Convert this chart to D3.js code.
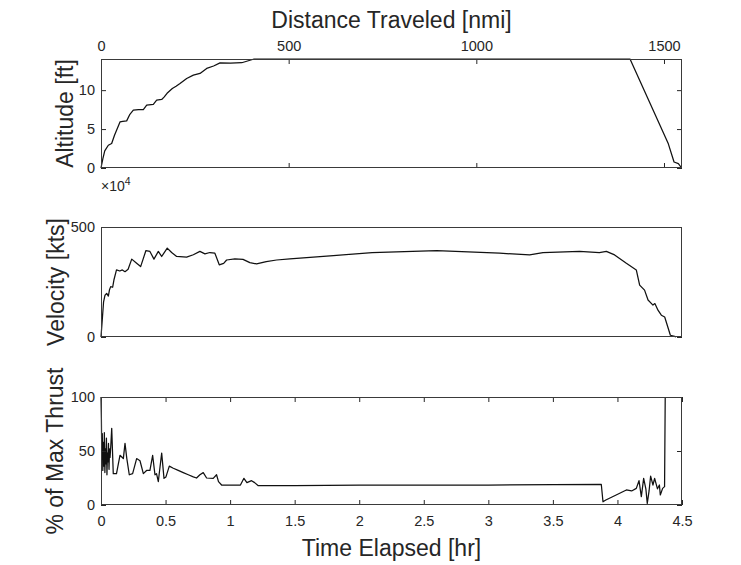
<!DOCTYPE html>
<html><head><meta charset="utf-8">
<script src="https://cdn.jsdelivr.net/npm/d3@7"></script>
<style>
body{margin:0;background:#fff}
svg{display:block}
text{font-family:"Liberation Sans",Arial,Helvetica,sans-serif;fill:#262626}
</style>
</head><body>
<svg id="c" width="741" height="565"></svg>
<script>
// ---- data ----
const altDistNmi = [0, 5, 10, 19.5, 28.4, 36, 50.6, 58, 68.4, 77, 86.1, 100, 112.8, 121.7, 139.4, 148.3, 161.7, 168, 176, 190, 200, 210.5, 228.3, 246, 263.8, 281.6, 300, 317.1, 345, 375, 408, 800, 1200, 1409.5, 1511.6, 1526.8, 1538.3, 1547];
const altFt = [0, 12000, 22000, 29200, 31400, 42000, 59200, 60000, 60500, 69000, 74300, 75000, 75100, 80700, 81600, 87100, 88000, 91000, 96000, 102000, 105000, 108600, 115000, 119300, 121500, 127900, 131000, 135000, 134800, 135200, 140000, 140000, 140000, 140000, 31000, 7700, 5700, 0];

const velTimeHr = [0, 0.01, 0.02, 0.031, 0.044, 0.057, 0.066, 0.075, 0.09, 0.1, 0.12, 0.146, 0.165, 0.186, 0.21, 0.238, 0.276, 0.307, 0.348, 0.379, 0.41, 0.444, 0.47, 0.513, 0.547, 0.586, 0.663, 0.715, 0.766, 0.805, 0.843, 0.882, 0.916, 0.95, 0.973, 1.037, 1.10, 1.153, 1.205, 1.28, 1.36, 1.463, 1.8, 2.1, 2.6, 3.087, 3.32, 3.423, 3.707, 3.86, 3.914, 3.978, 4.069, 4.146, 4.172, 4.21, 4.237, 4.275, 4.29, 4.314, 4.34, 4.366, 4.41, 4.443, 4.455];
const velKts = [0, 80, 160, 190, 198, 186, 215, 229, 226, 259, 305, 300, 305, 297, 308, 354, 335, 320, 393, 389, 354, 389, 366, 404, 384, 366, 363, 374, 389, 378, 384, 381, 328, 335, 350, 355, 353, 338, 332, 343, 350, 355, 370, 384, 393, 381, 373, 384, 389, 384, 389, 373, 335, 305, 236, 213, 168, 145, 152, 122, 99, 91, 8, 3, 0];

const thrTimeHr = [0, 0.003, 0.006, 0.01, 0.014, 0.018, 0.022, 0.026, 0.03, 0.034, 0.038, 0.042, 0.046, 0.05, 0.054, 0.058, 0.062, 0.066, 0.07, 0.076, 0.083, 0.095, 0.12, 0.147, 0.173, 0.186, 0.2, 0.219, 0.245, 0.276, 0.302, 0.328, 0.353, 0.379, 0.40, 0.418, 0.43, 0.444, 0.45, 0.47, 0.488, 0.503, 0.529, 0.56, 0.598, 0.637, 0.676, 0.715, 0.74, 0.766, 0.792, 0.818, 0.869, 0.895, 0.91, 0.934, 1.08, 1.107, 1.13, 1.166, 1.19, 1.218, 1.5, 2.0, 2.5, 3.0, 3.5, 3.875, 3.888, 3.91, 3.99, 4.069, 4.11, 4.146, 4.167, 4.185, 4.203, 4.22, 4.231, 4.245, 4.257, 4.275, 4.288, 4.31, 4.325, 4.332, 4.35, 4.365, 4.37];
const thrPct = [100, 80, 45, 66, 32, 58, 36, 67, 30, 52, 38, 62, 28, 48, 40, 57, 33, 52, 44, 55, 71, 29, 29, 46, 43, 57, 43, 28, 29, 43, 41, 29, 32, 32, 46, 28, 29, 21.6, 28, 48, 24.7, 26, 36, 34, 32, 30, 28, 26, 25, 28, 30, 25, 24.7, 28, 21.6, 18.5, 18.5, 24.7, 20.7, 22.5, 20.7, 17.9, 17.9, 18.3, 18.5, 18.5, 18.8, 19, 3, 4.6, 9.3, 13.9, 13, 15.4, 22.5, 7.7, 24.7, 15, 1.5, 13, 26.8, 18.5, 24.7, 15, 18.5, 9.3, 15.4, 17, 100];

const distTicks = [0, 500, 1000, 1500];
const altTicks = [0, 50000, 100000];
const velTicks = [0, 500];
const thrTicks = [0, 50, 100];
const timeTicks = [0, 0.5, 1, 1.5, 2, 2.5, 3, 3.5, 4, 4.5];
const timeTickLabels = ["0", "0.5", "1", "1.5", "2", "2.5", "3", "3.5", "4", "4.5"];

const labelTop = "Distance Traveled [nmi]";
const labelBottom = "Time Elapsed [hr]";
const labelAlt = "Altitude [ft]";
const labelVel = "Velocity [kts]";
const labelThr = "% of Max Thrust";

// ---- layout ----
const X0 = 101, X1 = 682;
const P1 = [59, 168], P2 = [227, 337], P3 = [397, 505];
const TICK = 5, TICKFONT = "14.5px", LABELFONT = "23px";
const INK = "#262626";

const svg = d3.select("#c");

const xDist = d3.scaleLinear().domain([0, 1548]).range([X0, X1]);
const xTime = d3.scaleLinear().domain([0, 4.5]).range([X0, X1]);
const yAlt = d3.scaleLinear().domain([0, 140000]).range([P1[1], P1[0]]);
const yVel = d3.scaleLinear().domain([0, 500]).range([P2[1], P2[0]]);
const yThr = d3.scaleLinear().domain([0, 100]).range([P3[1], P3[0]]);

function styleAxis(g) {
  g.select(".domain").remove();
  g.attr("font-family", null).attr("font-size", TICKFONT).attr("color", INK);
  g.selectAll("line").attr("stroke", INK);
}

function frame(P, xs, ys, xt, yt, opts) {
  const g = svg.append("g");
  if (xt) {
    g.append("g").attr("transform", `translate(0,${P[0]})`)
      .call(d3.axisTop(xs).tickValues(xt).tickSizeInner(-TICK).tickSizeOuter(0).tickPadding(8)
        .tickFormat(opts.topLabels ? opts.topFmt : () => ""))
      .call(styleAxis);
    g.append("g").attr("transform", `translate(0,${P[1]})`)
      .call(d3.axisBottom(xs).tickValues(xt).tickSizeInner(-TICK).tickSizeOuter(0).tickPadding(11)
        .tickFormat(opts.bottomLabels ? opts.bottomFmt : () => ""))
      .call(styleAxis);
  }
  g.append("g").attr("transform", `translate(${X0},0)`)
    .call(d3.axisLeft(ys).tickValues(yt).tickSizeInner(-TICK).tickSizeOuter(0).tickPadding(6)
      .tickFormat(opts.yFmt))
    .call(styleAxis);
  g.append("g").attr("transform", `translate(${X1},0)`)
    .call(d3.axisRight(ys).tickValues(yt).tickSizeInner(-TICK).tickSizeOuter(0).tickFormat(() => ""))
    .call(styleAxis);
  g.append("rect").attr("x", X0 + 0.5).attr("y", P[0] + 0.5)
    .attr("width", X1 - X0 - 1).attr("height", P[1] - P[0] - 1)
    .attr("fill", "none").attr("stroke", "#3a3a3a").attr("stroke-width", 1);
}

function series(xs, ys, xv, yv) {
  const data = d3.zip(xv, yv);
  svg.append("path").datum(data)
    .attr("fill", "none").attr("stroke", "#111").attr("stroke-width", 1.25)
    .attr("stroke-linejoin", "round")
    .attr("d", d3.line().x(d => xs(d[0])).y(d => ys(d[1])));
}

series(xDist, yAlt, altDistNmi, altFt);
frame(P1, xDist, yAlt, distTicks, altTicks, {
  topLabels: true, topFmt: d3.format("d"), bottomLabels: false,
  yFmt: d => String(d / 1e4)
});

series(xTime, yVel, velTimeHr, velKts);
frame(P2, xTime, yVel, null, velTicks, { yFmt: d3.format("d") });

series(xTime, yThr, thrTimeHr, thrPct);
frame(P3, xTime, yThr, timeTicks, thrTicks, {
  topLabels: false, bottomLabels: true,
  bottomFmt: (d, i) => timeTickLabels[i],
  yFmt: d3.format("d")
});

// exponent
const ex = svg.append("text").attr("x", 101).attr("y", 191).attr("font-size", "14px");
ex.append("tspan").text("×10");
ex.append("tspan").attr("dy", -6).attr("font-size", "10.5px").text("4");

// axis labels
svg.append("text").attr("x", (X0 + X1) / 2).attr("y", 28).attr("text-anchor", "middle")
  .attr("font-size", LABELFONT).text(labelTop);
svg.append("text").attr("x", (X0 + X1) / 2).attr("y", 556).attr("text-anchor", "middle")
  .attr("font-size", LABELFONT).text(labelBottom);
[[labelAlt, 73, (P1[0] + P1[1]) / 2], [labelVel, 64, (P2[0] + P2[1]) / 2], [labelThr, 63, (P3[0] + P3[1]) / 2]]
  .forEach(([t, x, y]) => {
    svg.append("text").attr("transform", `translate(${x},${y}) rotate(-90)`)
      .attr("text-anchor", "middle").attr("font-size", LABELFONT).text(t);
  });
</script>
</body></html>
